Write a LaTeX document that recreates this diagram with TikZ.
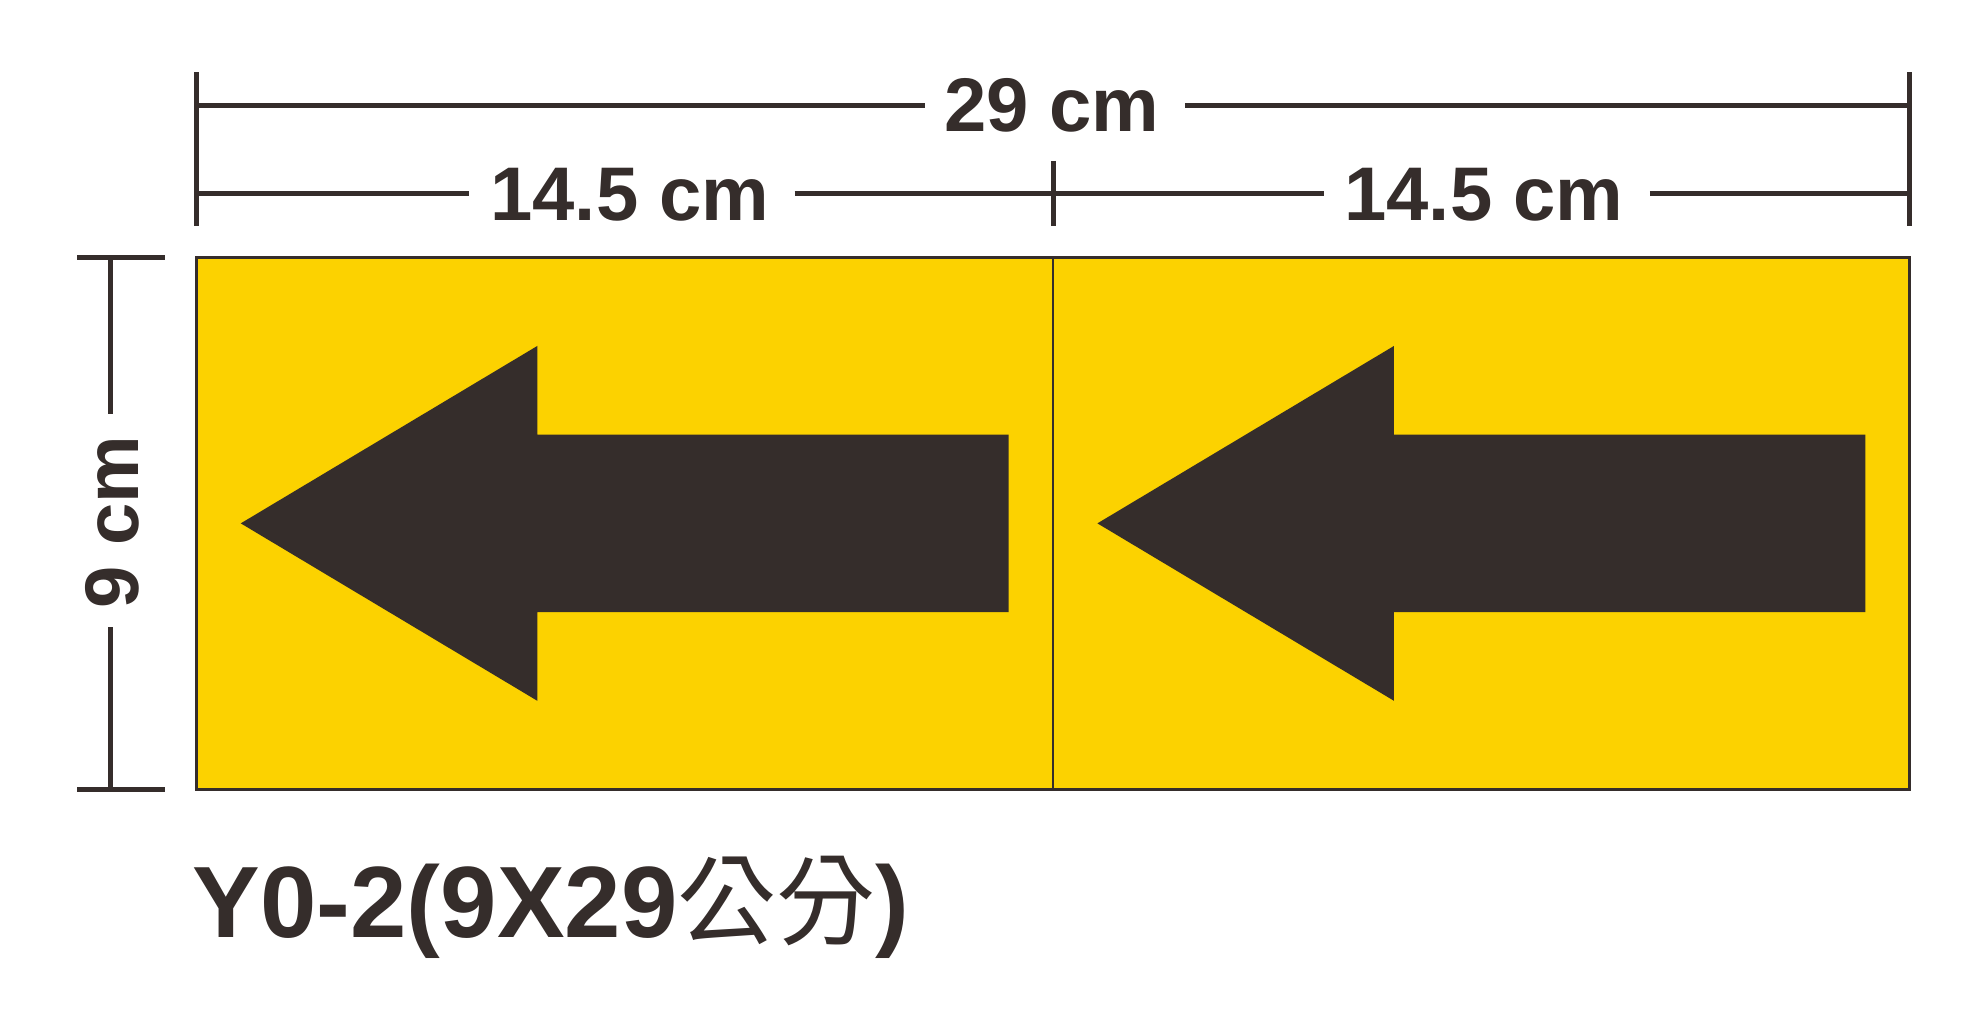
\documentclass[tikz,border=0pt]{standalone}
\usepackage{fontspec}
\setmainfont{Liberation Sans}
\newfontfamily\cjk{Noto Sans CJK TC}
\definecolor{signyellow}{HTML}{FCD200}
\definecolor{ink}{HTML}{352D2B}
\begin{document}
\begin{tikzpicture}[x=1pt,y=-1pt,
  dimline/.style={draw=ink,line width=4pt},
  dimtext/.style={text=ink,font=\bfseries\fontsize{60}{60}\selectfont,inner sep=0pt,anchor=base},
  panel/.style={fill=signyellow,draw=ink,line width=2pt},
  arrowshape/.style={fill=ink,draw=none}]
\useasboundingbox (0,0) rectangle (1568,814);
% panels
\path[panel] (155,203) rectangle (1507,623);
\draw[ink,line width=1.5pt] (831,203) -- (831,623);
% arrows
\foreach \dx in {0,676}{
  \path[arrowshape] (190+\dx,413) -- (424+\dx,273) -- (424+\dx,343) -- (796+\dx,343)
    -- (796+\dx,483) -- (424+\dx,483) -- (424+\dx,553) -- cycle;
}
% top dimension texts
\node[dimtext] (t29) at (830,104) {29 cm};
\node[dimtext] (t145a) at (497,174) {14.5 cm};
\node[dimtext] (t145b) at (1171,174) {14.5 cm};
% coordinates
\coordinate (tl) at (155,57);
\coordinate (bl) at (155,178);
\coordinate (tr) at (1507,57);
\coordinate (br) at (1507,178);
\coordinate (mt) at (831,127);
\coordinate (mb) at (831,178);
\coordinate (a29l) at (155,83);
\coordinate (a29le) at (730,83);
\coordinate (a29rs) at (935,83);
\coordinate (a29r) at (1507,83);
\coordinate (b1) at (155,153);
\coordinate (b2) at (370,153);
\coordinate (b3) at (627,153);
\coordinate (b4) at (1045,153);
\coordinate (b5) at (1302,153);
\coordinate (b6) at (1507,153);
\draw[dimline] (tl) -- (bl);
\draw[dimline] (tr) -- (br);
\draw[dimline] (mt) -- (mb);
\draw[dimline] (a29l) -- (a29le);
\draw[dimline] (a29rs) -- (a29r);
\draw[dimline] (b1) -- (b2);
\draw[dimline] (b3) -- (b4);
\draw[dimline] (b5) -- (b6);
% left dimension
\node[dimtext,rotate=90] (t9) at (109,412) {9 cm};
\coordinate (v1) at (87,203);
\coordinate (v2) at (87,327);
\coordinate (v3) at (87,495);
\coordinate (v4) at (87,623);
\coordinate (h1l) at (61,203);
\coordinate (h1r) at (130,203);
\coordinate (h2l) at (61,623);
\coordinate (h2r) at (130,623);
\draw[dimline] (v1) -- (v2);
\draw[dimline] (v3) -- (v4);
\draw[dimline] (h1l) -- (h1r);
\draw[dimline] (h2l) -- (h2r);
% label
\node[text=ink,inner sep=0pt,anchor=base west,font=\bfseries\fontsize{80}{80}\selectfont] (lbl) at (152,740)
  {Y0-2(9X29{\cjk\mdseries\fontsize{78}{78}\selectfont 公分})};
\end{tikzpicture}
\end{document}
